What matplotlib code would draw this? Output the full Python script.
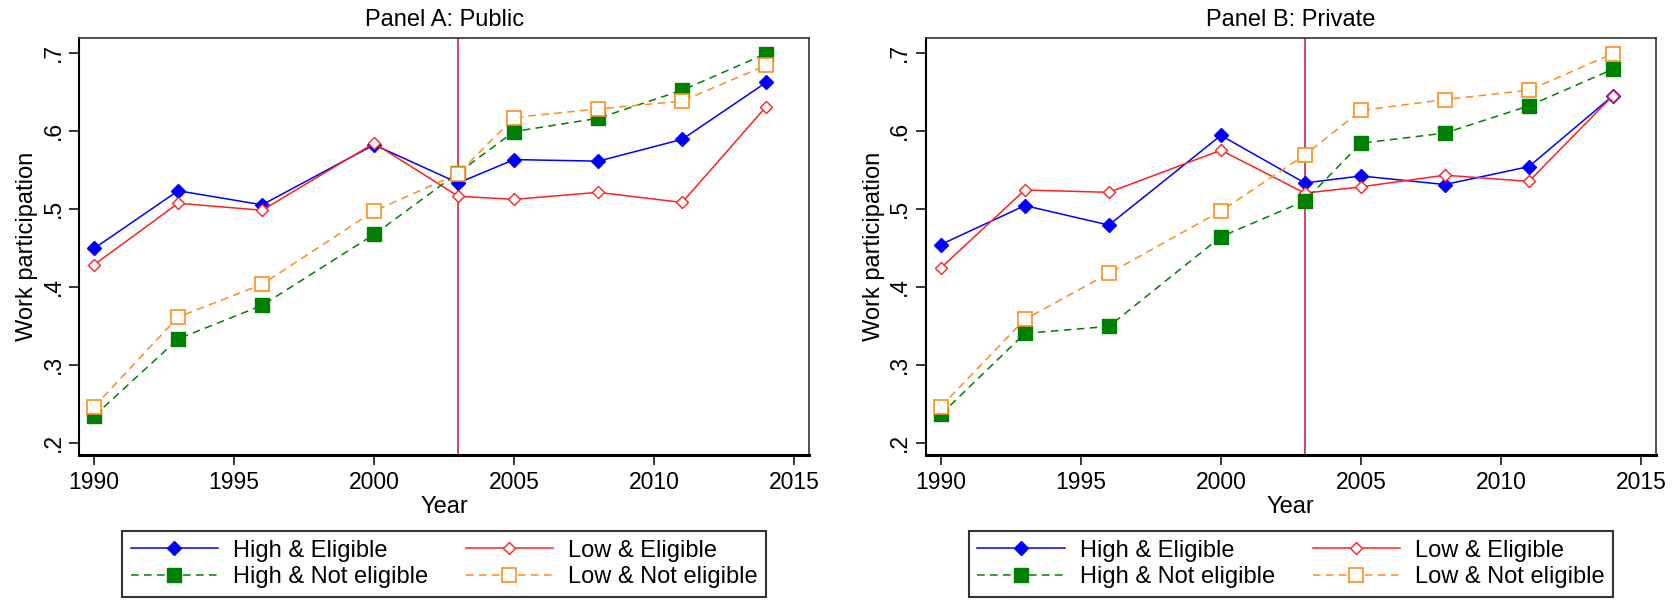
import matplotlib
matplotlib.use("Agg")
import matplotlib.pyplot as plt
from matplotlib.lines import Line2D

plt.rcParams['font.family'] = ['Liberation Sans', 'DejaVu Sans']

years = [1990, 1993, 1996, 2000, 2003, 2005, 2008, 2011, 2014]
reform_year = 2003

# Panel A: public sector
public_high_elig = [0.449, 0.523, 0.505, 0.582, 0.533, 0.563, 0.561, 0.589, 0.662]
public_low_elig = [0.428, 0.507, 0.498, 0.584, 0.516, 0.512, 0.521, 0.508, 0.631]
public_high_not = [0.234, 0.333, 0.376, 0.467, 0.546, 0.599, 0.616, 0.652, 0.699]
public_low_not = [0.246, 0.361, 0.403, 0.497, 0.545, 0.617, 0.628, 0.638, 0.684]

# Panel B: private sector
private_high_elig = [0.454, 0.504, 0.479, 0.594, 0.533, 0.542, 0.531, 0.554, 0.645]
private_low_elig = [0.424, 0.524, 0.521, 0.575, 0.520, 0.528, 0.543, 0.535, 0.645]
private_high_not = [0.236, 0.340, 0.349, 0.464, 0.510, 0.584, 0.597, 0.632, 0.679]
private_low_not = [0.246, 0.358, 0.417, 0.497, 0.569, 0.626, 0.640, 0.652, 0.699]

series_labels = ["High & Eligible", "Low & Eligible", "High & Not eligible", "Low & Not eligible"]
x_ticks = [1990, 1995, 2000, 2005, 2010, 2015]
y_ticks = [0.2, 0.3, 0.4, 0.5, 0.6, 0.7]
y_ticklabels = [".2", ".3", ".4", ".5", ".6", ".7"]

dash = (0, (5, 3.5))
styles = [
    dict(color="#0000ff", linestyle="-", marker="D", markersize=7.5, markerfacecolor="#0000ff", lw=1.1),
    dict(color="#ff2020", linestyle="-", marker="D", markersize=6, markerfacecolor="white", mew=1.0, lw=1.1),
    dict(color="#008000", linestyle=dash, marker="s", markersize=10, markerfacecolor="#008000", lw=1.1),
    dict(color="#ff8c1a", linestyle=dash, marker="s", markersize=10, markerfacecolor="white", mew=1.2, lw=1.1),
]

panels = [
    ("Panel A: Public", [public_high_elig, public_low_elig, public_high_not, public_low_not], 0.0471),
    ("Panel B: Private", [private_high_elig, private_low_elig, private_high_not, private_low_not], 0.552),
]

fig = plt.figure(figsize=(16.77, 6.07), dpi=100)
ax_w, ax_b, ax_h = 0.4355, 0.2504, 0.687

for title, data, left in panels:
    ax = fig.add_axes([left, ax_b, ax_w, ax_h])
    for vals, st in zip(data, styles):
        ax.plot(years, vals, **st)
    ax.axvline(reform_year, color="#cc1040", lw=1.1, zorder=0)
    ax.set_xlim(1989.46, 2015.54)
    ax.set_ylim(0.184, 0.719)
    ax.set_xticks(x_ticks)
    ax.set_yticks(y_ticks)
    ax.set_yticklabels(y_ticklabels, rotation=90, va="center")
    ax.tick_params(direction="out", length=7.5, width=1.1, labelsize=16.5)
    ax.tick_params(axis="x", pad=4.3)
    ax.tick_params(axis="y", pad=3)

    ax.set_xlabel("Year", fontsize=17)
    ax.xaxis.set_label_coords(0.5, -0.1247)
    ax.xaxis.label.set_va("center")
    ax.set_ylabel("Work participation", fontsize=17)
    ax.yaxis.set_label_coords(-0.0714, 0.5)
    ax.yaxis.label.set_va("center")
    ax.set_title(title, fontsize=17, y=1.043, va="center", pad=0)

    for side in ["top", "right"]:
        ax.spines[side].set_linewidth(1.2)
        ax.spines[side].set_color("#333333")
    ax.spines["left"].set_linewidth(1.5)
    ax.spines["bottom"].set_linewidth(2.2)

    handles = [Line2D([0], [0], **st) for st in styles]
    order = [0, 2, 1, 3]
    leg = ax.legend([handles[i] for i in order], [series_labels[i] for i in order],
                    ncol=2, loc="upper center",
                    bbox_to_anchor=(left + ax_w / 2, 0.1245),
                    bbox_transform=fig.transFigure, fontsize=17,
                    handlelength=3.7, frameon=True, fancybox=False,
                    edgecolor="black", borderpad=0.35, labelspacing=0.2,
                    handletextpad=0.63, columnspacing=1.6, borderaxespad=0)
    leg.get_frame().set_linewidth(1.5)

fig.savefig("out.png", dpi=100)
